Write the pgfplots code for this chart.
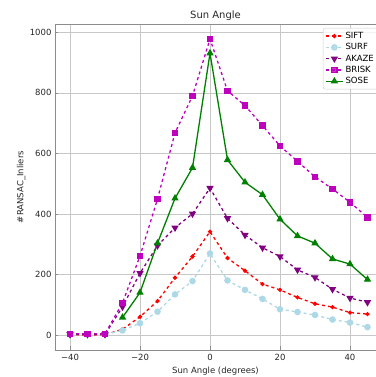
\documentclass[border=0pt]{standalone}
\usepackage{fontspec}
\setmainfont{DejaVu Sans}
\usepackage{pgfplots}
\pgfplotsset{compat=1.18}
\usetikzlibrary{calc}
\definecolor{cSIFT}{RGB}{255,0,0}
\definecolor{cSURF}{RGB}{173,216,230}
\definecolor{cAKAZE}{RGB}{128,0,128}
\definecolor{cBRISK}{RGB}{191,0,191}
\definecolor{cSOSE}{RGB}{0,128,0}
\begin{document}
\begin{tikzpicture}
\begin{axis}[
  name=ax,
  scale only axis,
  width=321pt, height=326pt,
  xmin=-44.29, xmax=47.43,
  ymin=-48.5, ymax=1027.4,
  axis y line*=left,
  axis x line*=box,
  xtick pos=bottom,
  axis line style={black!45, line width=0.7pt},
  major tick style={black!45, line width=0.7pt},
  major tick length=3.5pt,
  xtick={-40,-20,0,20,40},
  xticklabels={−40,−20,0,20,40},
  ytick={0,200,400,600,800,1000},
  yticklabels={0,200,400,600,800,1000},
  grid=major,
  major grid style={black!22, line width=0.7pt},
  tick label style={font=\fontsize{8.5}{10}\selectfont, text=black!85},
  xticklabel style={yshift=-1pt},
  label style={font=\fontsize{8.5}{10}\selectfont, text=black!85},
  title style={font=\fontsize{10}{12}\selectfont, text=black!85, at={(axis description cs:0.5,1)}, anchor=south, yshift=-6pt},
  title={Sun Angle},
  xlabel={Sun Angle (degrees)},
  ylabel={\#RANSAC\_Inliers},
  xlabel style={at={(axis description cs:0.5,0)}, anchor=north, yshift=-14pt},
  ylabel style={at={(axis description cs:0,0.5)}, anchor=south, yshift=26pt},
  legend cell align=left,
  legend style={at={(1,1)}, anchor=north east, xshift=2pt, yshift=-4pt,
    draw=black!20, rounded corners=2pt, fill=white, fill opacity=0.8, text opacity=1,
    font=\fontsize{8.5}{10}\selectfont, row sep=-0.5pt, inner sep=2pt},
]
\addplot[cSIFT, dashed, line width=1.3pt, mark=*, mark size=1.4pt, mark options={solid}] coordinates {
(-40,2) (-35,1) (-30,2) (-25,20) (-20,61) (-15,113) (-10,190) (-5,260) (0,342) (5,255) (10,213) (15,169) (20,150) (25,125) (30,104) (35,93) (40,75) (45,70)};
\addlegendentry{SIFT}
\addplot[cSURF, dashed, line width=1.3pt, mark=*, mark size=2.6pt, mark options={solid}] coordinates {
(-40,3) (-35,3) (-30,3) (-25,16) (-20,40) (-15,78) (-10,135) (-5,179) (0,270) (5,181) (10,150) (15,120) (20,86) (25,77) (30,67) (35,52) (40,42) (45,27)};
\addlegendentry{SURF}
\addplot[cAKAZE, dashed, line width=1.3pt, mark=triangle*, mark size=3pt, mark options={solid, rotate=180}] coordinates {
(-40,3) (-35,3) (-30,3) (-25,94) (-20,205) (-15,296) (-10,355) (-5,401) (0,486) (5,386) (10,331) (15,289) (20,260) (25,216) (30,191) (35,152) (40,123) (45,109)};
\addlegendentry{AKAZE}
\addplot[cBRISK, dashed, line width=1.3pt, mark=square*, mark size=2.6pt, mark options={solid}] coordinates {
(-40,5) (-35,5) (-30,5) (-25,107) (-20,262) (-15,450) (-10,668) (-5,790) (0,978) (5,807) (10,758) (15,692) (20,625) (25,574) (30,523) (35,483) (40,439) (45,389)};
\addlegendentry{BRISK}
\addplot[cSOSE, solid, line width=1.3pt, mark=triangle*, mark size=3pt] coordinates {
(-25,59) (-20,141) (-15,304) (-10,452) (-5,553) (0,931) (5,579) (10,505) (15,464) (20,383) (25,328) (30,304) (35,252) (40,235) (45,184)};
\addlegendentry{SOSE}
\end{axis}
\pgfresetboundingbox
\path[use as bounding box] ($(ax.south west)+(-55pt,-27pt)$) rectangle ($(ax.north east)+(0pt,24pt)$);
\end{tikzpicture}
\end{document}
